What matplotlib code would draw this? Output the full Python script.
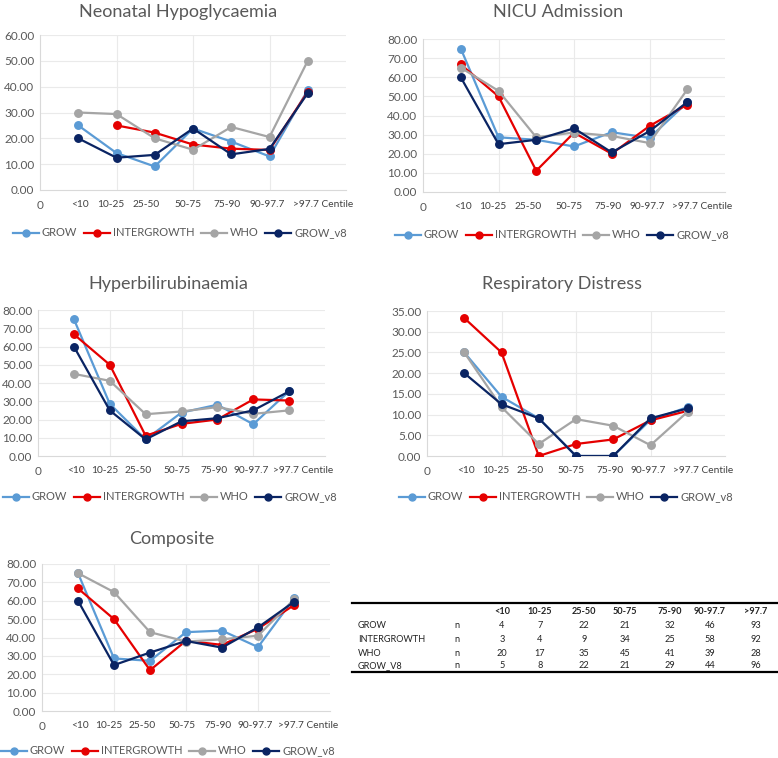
import numpy as np
import matplotlib
matplotlib.use("Agg")
import matplotlib.pyplot as plt
from matplotlib.lines import Line2D

plt.rcParams['font.family'] = ['Lato', 'DejaVu Sans']

# ---------------- data ----------------
categories = ["<10", "10-25", "25-50", "50-75", "75-90", "90-97.7", ">97.7 Centile"]
series_names = ["GROW", "INTERGROWTH", "WHO", "GROW_v8"]

hypo_grow = [25.0, 14.3, 9.1, 23.8, 18.75, 13.0, 38.7]
hypo_ig = [np.nan, 25.0, 22.2, 17.6, 16.0, 15.5, 38.0]
hypo_who = [30.0, 29.4, 20.0, 15.6, 24.4, 20.5, 50.0]
hypo_v8 = [20.0, 12.5, 13.6, 23.8, 13.8, 15.9, 37.5]

nicu_grow = [75.0, 28.6, 27.3, 23.8, 31.25, 28.3, 46.8]
nicu_ig = [66.7, 50.0, 11.1, 31.0, 20.0, 34.5, 45.7]
nicu_who = [65.0, 52.9, 28.6, 31.1, 29.3, 25.6, 53.6]
nicu_v8 = [60.0, 25.0, 27.3, 33.3, 20.7, 31.8, 47.0]

bili_grow = [75.0, 28.6, 9.1, 23.8, 28.1, 17.4, 35.5]
bili_ig = [66.7, 50.0, 11.1, 17.6, 20.0, 31.0, 30.4]
bili_who = [45.0, 41.2, 22.9, 24.4, 26.8, 23.1, 25.0]
bili_v8 = [60.0, 25.0, 9.1, 19.0, 20.7, 25.0, 35.4]

resp_grow = [25.0, 14.3, 9.1, 0.0, 0.0, 8.7, 11.8]
resp_ig = [33.3, 25.0, 0.0, 2.9, 4.0, 8.6, 10.9]
resp_who = [25.0, 11.8, 2.9, 8.9, 7.3, 2.6, 10.7]
resp_v8 = [20.0, 12.5, 9.1, 0.0, 0.0, 9.1, 11.5]

comp_grow = [75.0, 28.6, 27.3, 42.9, 43.75, 34.8, 61.3]
comp_ig = [66.7, 50.0, 22.2, 38.2, 36.0, 44.8, 57.6]
comp_who = [75.0, 64.7, 42.9, 37.8, 39.0, 41.0, 60.7]
comp_v8 = [60.0, 25.0, 31.8, 38.1, 34.5, 45.5, 59.4]

table_cols = ["<10", "10-25", "25-50", "50-75", "75-90", "90-97.7", ">97.7"]
table_rows = ["GROW", "INTERGROWTH", "WHO", "GROW_V8"]
n_grow = [4, 7, 22, 21, 32, 46, 93]
n_ig = [3, 4, 9, 34, 25, 58, 92]
n_who = [20, 17, 35, 45, 41, 39, 28]
n_v8 = [5, 8, 22, 21, 29, 44, 96]

# ---------------- style ----------------
W, H = 778, 758
colors = ["#5B9BD5", "#E50000", "#A5A5A5", "#0A2463"]
grid_c = "#EAEAEA"
txt_c = "#595959"

fig = plt.figure(figsize=(W / 100, H / 100), dpi=100)


def rect(l, r, t, b):
    return [l / W, 1 - b / H, (r - l) / W, (b - t) / H]


panels = [
    dict(title="Neonatal Hypoglycaemia", data=[hypo_grow, hypo_ig, hypo_who, hypo_v8],
         ymax=60, ystep=10, box=(40, 346, 35, 190), title_xy=(178, 12), leg_xy=(180, 233)),
    dict(title="NICU Admission", data=[nicu_grow, nicu_ig, nicu_who, nicu_v8],
         ymax=80, ystep=10, box=(423, 725, 39, 192), title_xy=(558, 12), leg_xy=(562, 235)),
    dict(title="Hyperbilirubinaemia", data=[bili_grow, bili_ig, bili_who, bili_v8],
         ymax=80, ystep=10, box=(38, 325, 310, 456), title_xy=(168, 284), leg_xy=(170, 497)),
    dict(title="Respiratory Distress", data=[resp_grow, resp_ig, resp_who, resp_v8],
         ymax=35, ystep=5, box=(427, 725, 311, 456), title_xy=(562, 284), leg_xy=(566, 497)),
    dict(title="Composite", data=[comp_grow, comp_ig, comp_who, comp_v8],
         ymax=80, ystep=10, box=(42, 330, 564, 711), title_xy=(172, 539), leg_xy=(168, 751)),
]

xpos = np.arange(1, len(categories) + 1)
label_pos = [0, 1.05, 1.85, 2.78, 3.88, 4.9, 5.93, 7.4]

for p in panels:
    l, r, t, b = p["box"]
    ax = fig.add_axes(rect(l, r, t, b))
    ax.set_xlim(0, 8)
    ax.set_ylim(0, p["ymax"])
    yt = np.arange(0, p["ymax"] + 0.01, p["ystep"])
    ax.set_yticks(yt)
    ax.set_yticklabels([f"{v:.2f}" for v in yt], fontsize=8.5, color=txt_c)
    ax.set_xticks(label_pos)
    ax.set_xticklabels(["0"] + categories, fontsize=7.3, color="#404040")
    ax.get_xticklabels()[0].set_fontsize(8.5)
    ax.get_xticklabels()[0].set_color(txt_c)
    ax.tick_params(length=0, pad=7)
    ax.tick_params(axis="y", pad=4)
    for yv in yt[1:]:
        ax.axhline(yv, color=grid_c, lw=0.8, zorder=0)
    for xv in [2, 4, 6]:
        ax.axvline(xv, color=grid_c, lw=0.8, zorder=0)
    for s in ["top", "right"]:
        ax.spines[s].set_visible(False)
    for s in ["left", "bottom"]:
        ax.spines[s].set_color("#D9D9D9")
        ax.spines[s].set_linewidth(0.8)
    for vals, c in zip(p["data"], colors):
        ax.plot(xpos, vals, color=c, lw=1.6, marker="o", markersize=5.4, zorder=3)
    tx, ty = p["title_xy"]
    fig.text(tx / W, 1 - ty / H, p["title"], fontsize=13, color=txt_c, ha="center", va="center")
    handles = [Line2D([0], [0], color=c, lw=1.6, marker="o", markersize=5) for c in colors]
    lx, ly = p["leg_xy"]
    fig.legend(handles, series_names, loc="center", bbox_to_anchor=(lx / W, 1 - ly / H),
               ncol=4, frameon=False, fontsize=8, handlelength=2.3, columnspacing=0.6,
               handletextpad=0.3, labelcolor=txt_c, borderaxespad=0, borderpad=0)

# ---------------- table ----------------
fs = 6.6
fig.add_artist(Line2D([352 / W, 1.0], [1 - 603 / H] * 2, color="black", lw=1.6))
fig.add_artist(Line2D([352 / W, 1.0], [1 - 672 / H] * 2, color="black", lw=1.6))
col_x = [502, 540, 584, 625, 670, 710, 756]
for cx, c in zip(col_x, table_cols):
    fig.text(cx / W, 1 - 612 / H, c, fontsize=fs, ha="center", va="center", weight="bold", color="#222222")
row_y = [625, 639, 653, 666]
for ry, name, vals in zip(row_y, table_rows, [n_grow, n_ig, n_who, n_v8]):
    fig.text(358 / W, 1 - ry / H, name, fontsize=fs, ha="left", va="center", color="#222222")
    fig.text(457 / W, 1 - ry / H, "n", fontsize=fs, ha="center", va="center", color="#222222")
    for cx, v in zip(col_x, vals):
        fig.text(cx / W, 1 - ry / H, str(v), fontsize=fs, ha="center", va="center", color="#222222")

fig.savefig("out.png", dpi=100)
